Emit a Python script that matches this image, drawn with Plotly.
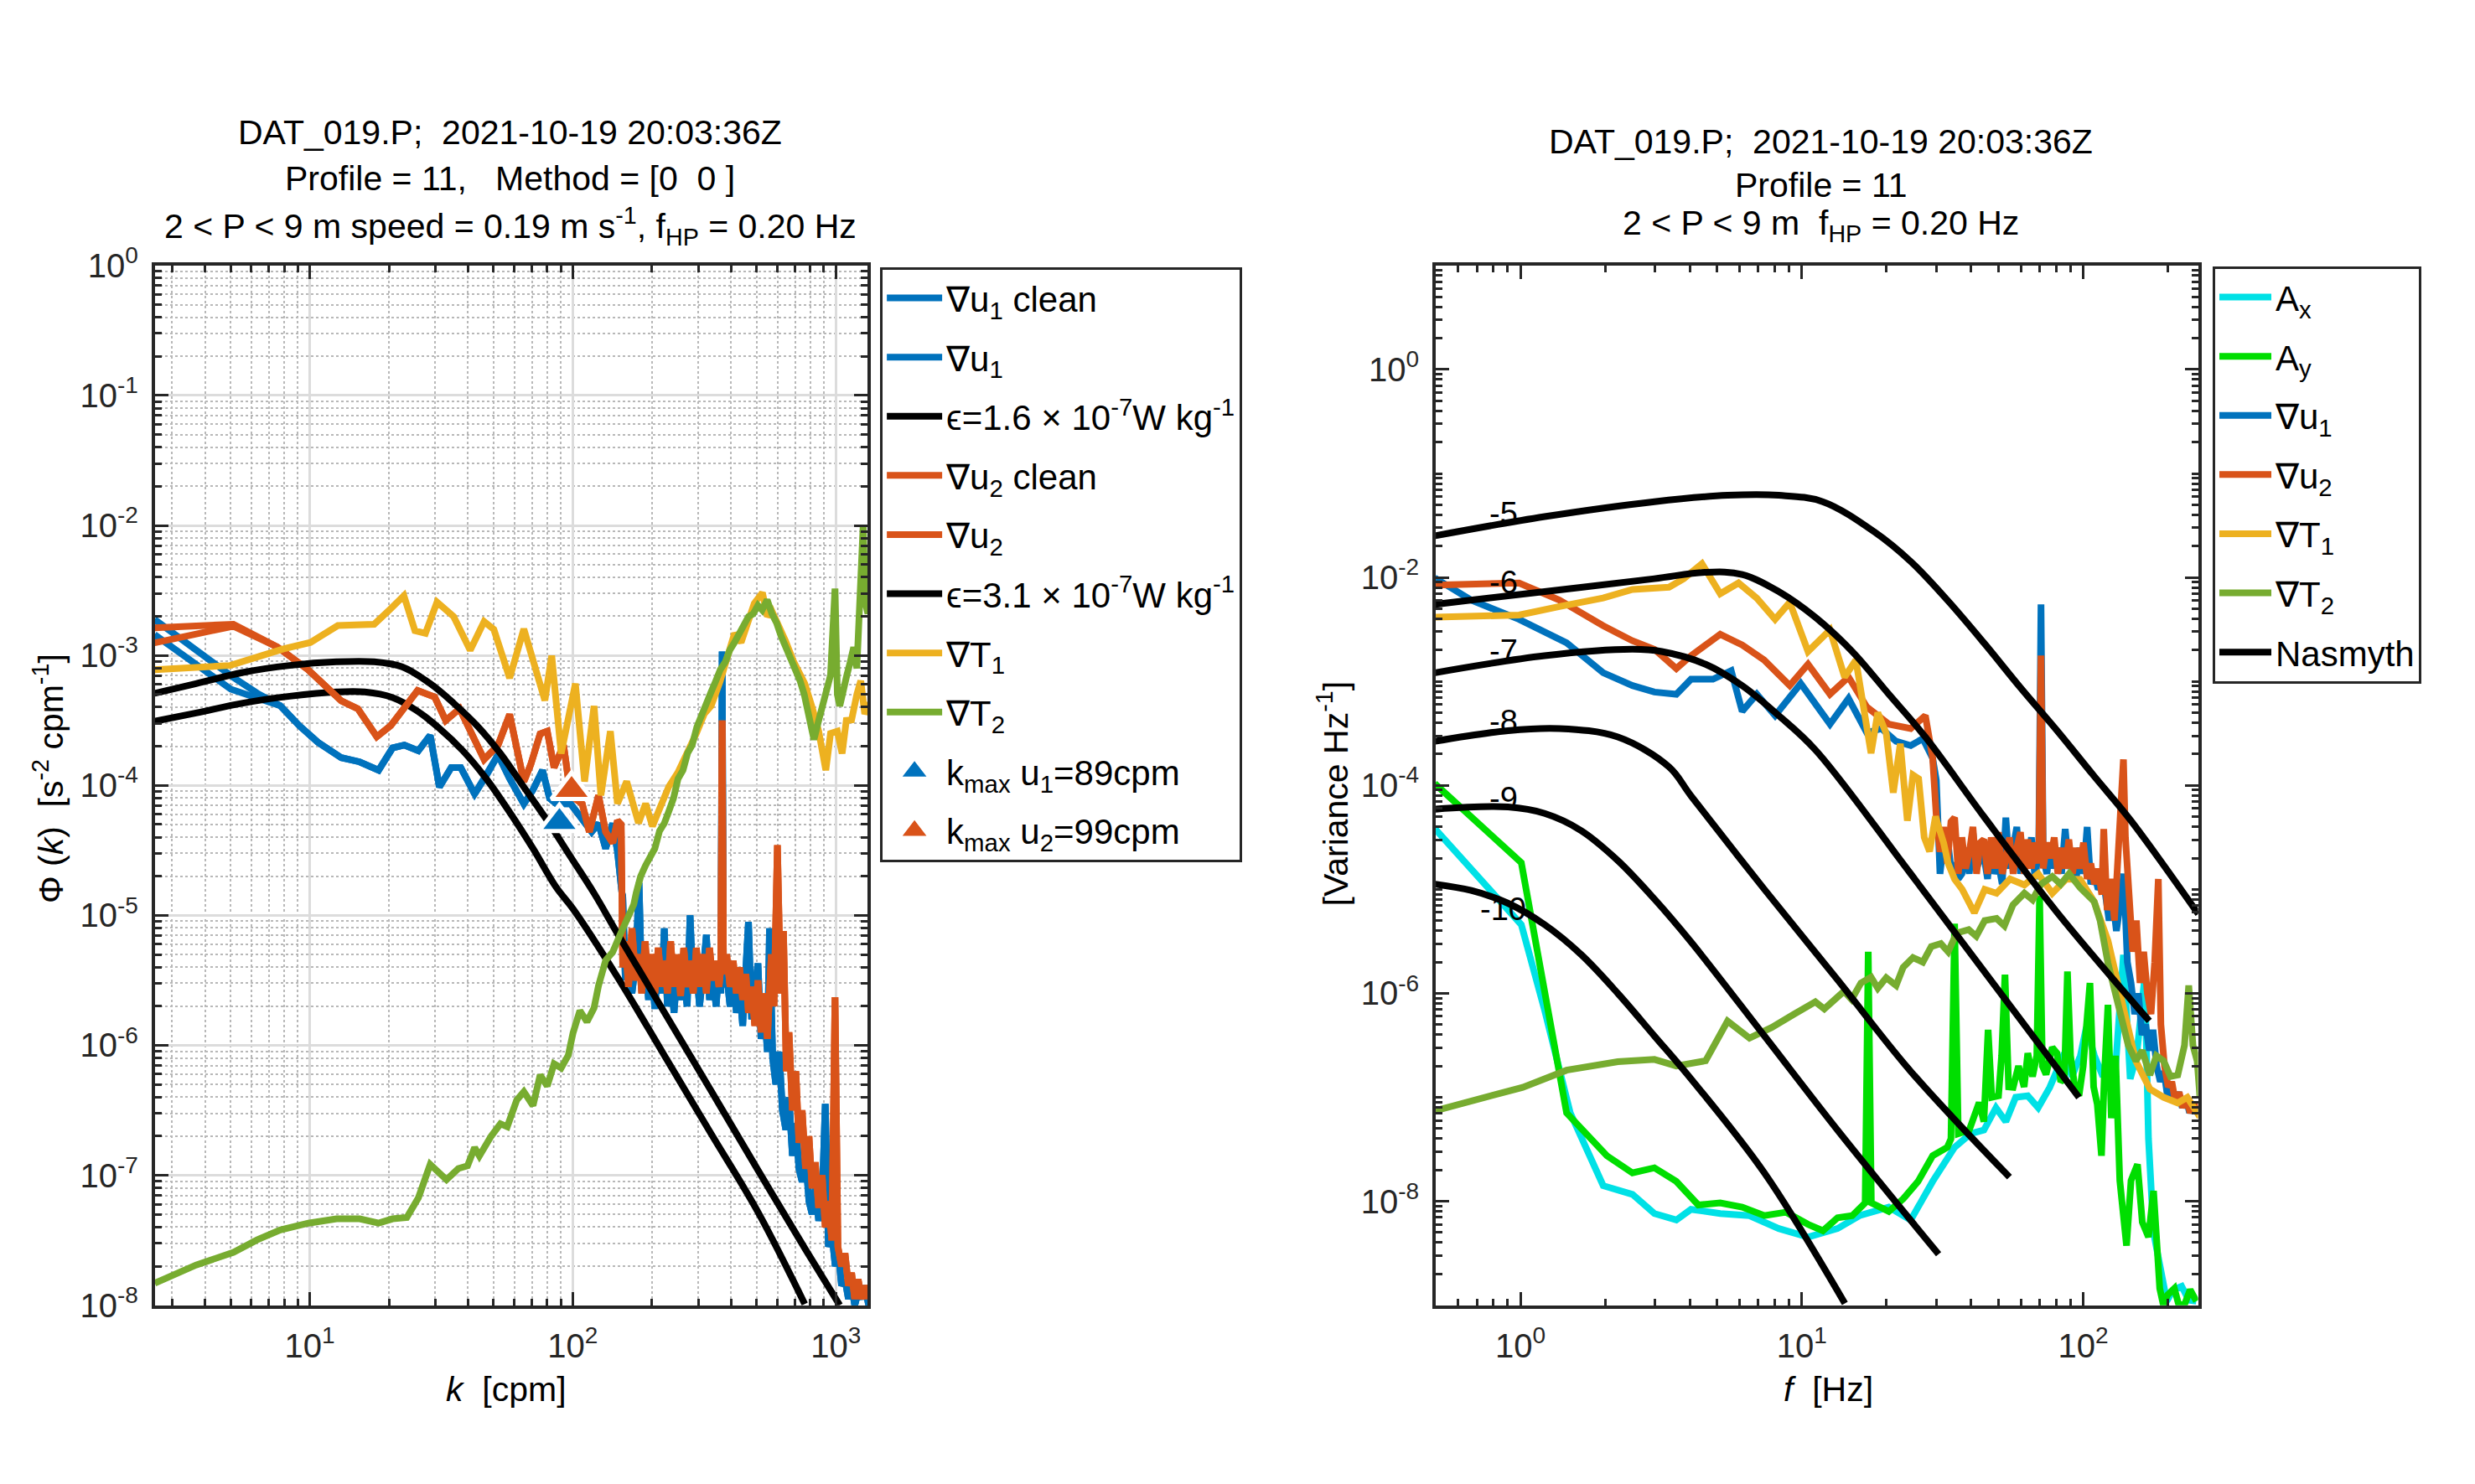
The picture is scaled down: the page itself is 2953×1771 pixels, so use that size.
import numpy as np
import plotly.graph_objects as go

# ---------------- left panel: wavenumber spectra (values are log10) ----------------
logk_u1 = [0.41, 0.568, 0.71, 0.80, 0.888, 0.96, 1.031, 1.12, 1.19, 1.262, 1.315, 1.36, 1.413,
           1.458, 1.493, 1.538, 1.574, 1.627, 1.671, 1.716, 1.76, 1.814, 1.849, 1.885, 1.912,
           1.938, 1.992, 2.027, 2.072, 2.098, 2.125, 2.152, 2.17, 2.187,
           2.190, 2.200, 2.212, 2.225, 2.240, 2.252, 2.262, 2.275, 2.288, 2.300, 2.312, 2.325,
           2.338, 2.348, 2.360, 2.372, 2.385, 2.398, 2.410, 2.422, 2.435, 2.446, 2.458, 2.470,
           2.482, 2.495, 2.508, 2.520, 2.532, 2.545, 2.556, 2.563, 2.568, 2.573, 2.585, 2.598,
           2.610, 2.622, 2.634, 2.646, 2.658, 2.668, 2.680, 2.692, 2.704, 2.716, 2.728, 2.740,
           2.748, 2.760, 2.772, 2.785, 2.797, 2.810, 2.822, 2.835, 2.848, 2.860, 2.872, 2.885,
           2.898, 2.910, 2.922, 2.935, 2.948, 2.960, 2.972, 2.985, 2.998, 3.010, 3.022, 3.035,
           3.048, 3.060, 3.072, 3.085, 3.098, 3.110, 3.125]
logphi_u1 = [-2.723, -2.96, -3.17, -3.29, -3.387, -3.54, -3.668, -3.787, -3.819, -3.883, -3.712,
             -3.69, -3.733, -3.615, -4.013, -3.862, -3.862, -4.066, -3.927, -3.765, -3.948, -4.142,
             -4.034, -3.883, -4.099, -4.142, -4.142, -4.228, -4.357, -4.292, -4.486, -4.292,
             -4.507, -4.83,
             -4.85, -5.50, -5.25, -5.60, -5.35, -4.75, -5.55, -5.30, -5.65, -5.40, -5.72, -5.35,
             -5.60, -5.10, -5.70, -5.45, -5.75, -5.40, -5.65, -5.50, -5.70, -5.00, -5.60, -5.40,
             -5.70, -5.45, -5.15, -5.65, -5.45, -5.70, -5.40, -5.60, -2.97, -5.55, -5.45, -5.70,
             -5.40, -5.75, -5.55, -5.85, -5.50, -5.05, -5.80, -5.60, -5.37, -5.95, -5.70, -6.05,
             -5.10, -6.10, -6.30, -6.05, -6.50, -6.65, -6.40, -6.85, -6.60, -6.95, -7.05, -6.85,
             -7.20, -7.30, -7.10, -7.35, -7.20, -6.45, -7.55, -7.45, -7.70, -7.60, -7.85, -7.80,
             -7.95, -7.85, -8.00, -7.90, -7.95, -7.85, -8.00]
# raw (not cleaned) u1 only differs at the lowest wavenumbers
logk_u1_raw_low = [0.41, 0.70]
logphi_u1_raw_low = [-2.84, -3.26]

logk_u2 = [0.41, 0.71, 0.877, 0.994, 1.12, 1.183, 1.255, 1.308, 1.41, 1.475, 1.517, 1.57, 1.663,
           1.716, 1.76, 1.814, 1.84, 1.876, 1.903, 1.929, 1.965, 1.992, 2.036, 2.063, 2.098,
           2.125, 2.152, 2.17, 2.184,
           2.190, 2.200, 2.212, 2.225, 2.240, 2.252, 2.262, 2.275, 2.288, 2.300, 2.312, 2.325,
           2.338, 2.348, 2.360, 2.372, 2.385, 2.398, 2.410, 2.422, 2.435, 2.446, 2.458, 2.470,
           2.482, 2.495, 2.508, 2.520, 2.532, 2.545, 2.556, 2.563, 2.568, 2.573, 2.585, 2.598,
           2.610, 2.622, 2.634, 2.646, 2.658, 2.668, 2.680, 2.692, 2.704, 2.716, 2.728, 2.740,
           2.755, 2.765, 2.778, 2.790, 2.801, 2.812, 2.822, 2.835, 2.848, 2.860, 2.872, 2.885,
           2.898, 2.910, 2.922, 2.935, 2.948, 2.960, 2.972, 2.985, 2.997, 3.008, 3.022, 3.035,
           3.048, 3.060, 3.072, 3.085, 3.098, 3.110, 3.125]
logphi_u2 = [-2.787, -2.76, -2.935, -3.11, -3.35, -3.41, -3.626, -3.54, -3.27, -3.32, -3.50,
             -3.41, -3.80, -3.69, -3.454, -3.97, -3.841, -3.604, -3.583, -3.862, -3.69, -4.077,
             -4.142, -4.357, -4.077, -4.357, -4.443, -4.271, -4.30,
             -5.40, -5.20, -5.55, -5.10, -5.50, -5.30, -5.60, -5.20, -5.55, -5.30, -5.60, -5.25,
             -5.55, -5.35, -5.60, -5.20, -5.55, -5.30, -5.62, -5.25, -5.55, -5.35, -5.60, -5.25,
             -5.55, -5.30, -5.60, -5.25, -5.50, -5.35, -5.55, -5.40, -3.50, -5.45, -5.30, -5.55,
             -5.35, -5.60, -5.40, -5.65, -5.45, -5.75, -5.55, -5.85, -5.50, -5.90, -5.60, -5.95,
             -5.30, -5.70, -4.46, -5.60, -5.12, -6.20, -5.90, -6.50, -6.20, -6.75, -6.50, -6.95,
             -6.70, -7.10, -6.90, -7.25, -7.00, -7.40, -7.20, -7.50, -5.63, -7.55, -7.70, -7.60,
             -7.85, -7.75, -7.95, -7.80, -7.95, -7.85, -7.95]
logk_u2_raw_low = [0.41, 0.71]
logphi_u2_raw_low = [-2.903, -2.775]

logk_T1 = [0.41, 0.698, 0.90, 1.003, 1.107, 1.245, 1.308, 1.358, 1.40, 1.44, 1.484, 1.547, 1.61,
           1.663, 1.70, 1.76, 1.814, 1.894, 1.92, 1.956, 2.01, 2.045, 2.081, 2.107, 2.143, 2.17,
           2.205, 2.25, 2.277, 2.303, 2.33, 2.365, 2.40, 2.437, 2.47, 2.50, 2.526, 2.56, 2.59,
           2.615, 2.64, 2.668, 2.69, 2.721, 2.74, 2.757, 2.78, 2.81, 2.84, 2.882, 2.91, 2.935,
           2.962, 2.98, 3.006, 3.024, 3.04, 3.06, 3.08, 3.095, 3.11, 3.13]
logphi_T1 = [-3.11, -3.077, -2.95, -2.90, -2.77, -2.76, -2.64, -2.54, -2.81, -2.83, -2.59, -2.70,
             -2.96, -2.74, -2.80, -3.174, -2.797, -3.346, -3.002, -3.755, -3.217, -3.97, -3.389,
             -4.077, -3.583, -4.14, -3.97, -4.29, -4.14, -4.314, -4.18, -4.01, -3.9, -3.755,
             -3.6, -3.45, -3.389, -3.2, -3.0, -2.83, -2.9, -2.722, -2.6, -2.518, -2.7, -2.658,
             -2.75, -2.894, -3.05, -3.217, -3.4, -3.583, -3.883, -3.6, -3.583, -3.755, -3.5,
             -3.496, -3.3, -3.195, -3.45, -3.367]

logk_T2 = [0.411, 0.568, 0.71, 0.80, 0.888, 0.995, 1.102, 1.19, 1.262, 1.315, 1.369, 1.413, 1.458,
           1.52, 1.565, 1.60, 1.627, 1.645, 1.689, 1.725, 1.751, 1.787, 1.814, 1.849, 1.876,
           1.903, 1.929, 1.956, 1.983, 2.001, 2.027, 2.054, 2.081, 2.098, 2.125, 2.152, 2.179,
           2.205, 2.232, 2.241, 2.258, 2.277, 2.295, 2.312, 2.33, 2.348, 2.365, 2.383, 2.40,
           2.419, 2.437, 2.454, 2.472, 2.49, 2.508, 2.526, 2.543, 2.561, 2.58, 2.597, 2.615,
           2.632, 2.65, 2.668, 2.686, 2.704, 2.72, 2.739, 2.757, 2.775, 2.792, 2.81, 2.828,
           2.846, 2.864, 2.88, 2.899, 2.917, 2.935, 2.953, 2.965, 2.98, 2.997, 3.006, 3.015,
           3.028, 3.042, 3.055, 3.068, 3.08, 3.095, 3.104, 3.113, 3.122, 3.13, 3.14]
logphi_T2 = [-7.83, -7.69, -7.593, -7.497, -7.421, -7.368, -7.335, -7.335, -7.368, -7.335, -7.325,
             -7.174, -6.916, -7.034, -6.948, -6.927, -6.787, -6.851, -6.701, -6.604, -6.626,
             -6.421, -6.357, -6.464, -6.228, -6.314, -6.142, -6.174, -6.077, -5.905, -5.733,
             -5.819, -5.712, -5.54, -5.346, -5.282, -5.153, -5.045, -4.916, -4.83, -4.70, -4.615,
             -4.55, -4.486, -4.35, -4.292, -4.2, -4.099, -3.95, -3.883, -3.75, -3.69, -3.55,
             -3.454, -3.35, -3.281, -3.2, -3.109, -3.05, -2.959, -2.9, -2.83, -2.75, -2.701,
             -2.68, -2.615, -2.65, -2.572, -2.679, -2.75, -2.851, -2.93, -3.023, -3.10, -3.195,
             -3.30, -3.454, -3.647, -3.5, -3.367, -3.25, -3.152, -2.486, -3.3, -3.389, -3.25,
             -3.152, -3.05, -2.937, -3.1, -2.464, -2.0, -2.6, -2.679, -2.5, -2.357]

# Nasmyth fits
logk_nas_lo = [0.41, 0.568, 0.746, 0.924, 1.102, 1.209, 1.315, 1.404, 1.493, 1.582, 1.671, 1.76,
               1.849, 1.938, 2.001, 2.17, 2.348, 2.526, 2.704, 2.882]
logphi_nas_lo = [-3.507, -3.443, -3.367, -3.314, -3.281, -3.281, -3.324, -3.421, -3.561, -3.733,
                 -3.948, -4.206, -4.486, -4.787, -4.95, -5.475, -6.077, -6.68, -7.282, -7.99]
logk_nas_hi = [0.41, 0.568, 0.746, 0.924, 1.102, 1.244, 1.351, 1.458, 1.547, 1.636, 1.725, 1.814,
               1.903, 1.992, 2.081, 2.17, 2.348, 2.526, 2.704, 2.882, 3.015]
logphi_nas_hi = [-3.292, -3.217, -3.131, -3.077, -3.049, -3.049, -3.088, -3.217, -3.367, -3.54,
                 -3.755, -4.013, -4.271, -4.55, -4.83, -5.14, -5.745, -6.35, -6.96, -7.561, -8.0]

kmax_u1 = [89]
phimax_u1 = [5.2e-5]
kmax_u2 = [99]
phimax_u2 = [9.2e-5]

# ---------------- right panel: frequency spectra (values are log10) ----------------
logf_Ax = [-0.305, 0.003, 0.086, 0.177, 0.294, 0.398, 0.476, 0.554, 0.606, 0.71, 0.814, 0.918,
           1.022, 1.127, 1.205, 1.309, 1.387, 1.465, 1.543, 1.60, 1.647, 1.69, 1.725, 1.76,
           1.803, 1.84, 1.881, 1.91, 1.933, 1.96, 1.99, 2.011, 2.04, 2.07, 2.089, 2.11, 2.143,
           2.167, 2.19, 2.219, 2.232, 2.25, 2.272, 2.297, 2.32, 2.35, 2.375, 2.402]
logv_Ax = [-4.414, -5.34, -6.163, -7.15, -7.85, -7.933, -8.118, -8.18, -8.077, -8.118, -8.138,
           -8.262, -8.344, -8.262, -8.138, -8.056, -8.18, -7.809, -7.48, -7.35, -7.315, -7.1,
           -7.233, -7.0, -6.986, -7.1, -6.904, -6.7, -6.575, -6.8, -6.6, -6.327, -6.6, -6.8,
           -6.534, -6.9, -5.63, -6.822, -6.6, -5.834, -7.397, -8.3, -8.632, -8.96, -8.85, -8.817,
           -8.95, -8.96]

logf_Ay = [-0.305, 0.003, 0.164, 0.307, 0.398, 0.476, 0.554, 0.632, 0.71, 0.788, 0.867, 0.944,
           1.022, 1.075, 1.127, 1.179, 1.225, 1.236, 1.247, 1.309, 1.361, 1.413, 1.465, 1.517,
           1.530, 1.543, 1.556, 1.595, 1.63, 1.647, 1.662, 1.675, 1.699, 1.710, 1.722, 1.735,
           1.751, 1.77, 1.79, 1.803, 1.82, 1.835, 1.845, 1.855, 1.868, 1.89, 1.907, 1.92, 1.933,
           1.944, 1.955, 1.97, 1.985, 2.0, 2.024, 2.037, 2.05, 2.065, 2.075, 2.088, 2.10, 2.115,
           2.13, 2.154, 2.17, 2.193, 2.21, 2.232, 2.25, 2.272, 2.285, 2.30, 2.324, 2.34, 2.362,
           2.38, 2.402]
logv_Ay = [-3.982, -4.743, -7.15, -7.562, -7.727, -7.678, -7.809, -8.035, -8.015, -8.056, -8.138,
           -8.105, -8.221, -8.283, -8.159, -8.138, -8.015, -5.60, -8.015, -8.097, -7.974, -7.809,
           -7.562, -7.48, -7.4, -5.33, -7.35, -7.315, -7.05, -7.233, -6.35, -7.0, -6.986, -6.6,
           -5.82, -6.9, -6.904, -6.7, -6.9, -6.575, -6.8, -6.6, -5.06, -6.7, -6.78, -6.52,
           -6.575, -6.85, -6.821, -5.79, -6.6, -6.9, -6.986, -6.7, -5.90, -6.9, -7.068, -7.562,
           -6.8, -6.11, -7.2, -6.6, -7.8, -8.426, -7.8, -7.645, -8.2, -8.344, -7.9, -8.838, -9.0,
           -8.9, -8.838, -9.0, -8.98, -8.85, -8.96]

logf_u1 = [-0.305, -0.175, -0.005, 0.164, 0.294, 0.398, 0.476, 0.554, 0.606, 0.684, 0.749, 0.788,
           0.84, 0.905, 0.996, 1.1, 1.166, 1.231, 1.283, 1.335, 1.387, 1.43, 1.465,
           1.478, 1.491, 1.504, 1.517, 1.530, 1.543, 1.556, 1.569, 1.582, 1.595, 1.608, 1.621,
           1.634, 1.647, 1.660, 1.673, 1.686, 1.699, 1.712, 1.725, 1.738, 1.751, 1.764, 1.777,
           1.790, 1.803, 1.816, 1.829, 1.842, 1.850, 1.858, 1.871, 1.884, 1.897, 1.910, 1.923,
           1.936, 1.949, 1.962, 1.975, 1.988, 2.001, 2.014, 2.027, 2.040, 2.053, 2.066, 2.079,
           2.092, 2.105, 2.118, 2.131, 2.144, 2.157, 2.170, 2.183, 2.196, 2.209, 2.222, 2.235,
           2.248, 2.261, 2.274, 2.287, 2.300, 2.313, 2.326, 2.339, 2.352, 2.365, 2.378, 2.391,
           2.404]
logv_u1 = [-2.004, -2.218, -2.403, -2.629, -2.917, -3.04, -3.102, -3.123, -2.979, -2.979, -2.897,
           -3.288, -3.123, -3.329, -3.02, -3.411, -3.164, -3.494, -3.453, -3.576, -3.617, -3.55,
           -3.74,
           -3.95, -4.85, -4.55, -4.50, -4.80, -4.75, -4.90, -4.85, -4.60, -4.85, -4.45, -4.80,
           -4.70, -4.68, -4.90, -4.55, -4.85, -4.75, -4.95, -4.31, -4.80, -4.60, -4.40, -4.85,
           -4.55, -4.75, -4.50, -4.90, -4.60, -2.26, -4.70, -4.85, -4.55, -4.80, -4.60, -4.85,
           -4.42, -4.80, -4.70, -4.90, -4.60, -4.85, -4.40, -4.95, -4.85, -5.00, -4.95, -5.05,
           -5.30, -5.10, -5.40, -5.15, -4.85, -5.70, -5.90, -6.20, -6.00, -6.40, -6.30, -6.55,
           -6.35, -6.70, -6.85, -6.75, -7.00, -6.90, -7.05, -6.95, -7.10, -7.00, -7.15, -7.05,
           -7.15]

logf_u2 = [-0.305, -0.005, 0.138, 0.294, 0.398, 0.476, 0.554, 0.606, 0.71, 0.788, 0.866, 0.957,
           1.022, 1.1, 1.166, 1.231, 1.309, 1.387, 1.439, 1.465,
           1.478, 1.491, 1.504, 1.517, 1.530, 1.543, 1.556, 1.569, 1.582, 1.595, 1.608, 1.621,
           1.634, 1.647, 1.660, 1.673, 1.686, 1.699, 1.712, 1.725, 1.738, 1.751, 1.764, 1.777,
           1.790, 1.803, 1.816, 1.829, 1.842, 1.850, 1.858, 1.871, 1.884, 1.897, 1.910, 1.923,
           1.936, 1.949, 1.962, 1.975, 1.988, 2.001, 2.014, 2.027, 2.040, 2.053, 2.066, 2.073,
           2.085, 2.098, 2.111, 2.124, 2.137, 2.143, 2.150, 2.163, 2.176, 2.189, 2.202, 2.215,
           2.228, 2.241, 2.254, 2.267, 2.276, 2.289, 2.302, 2.315, 2.328, 2.341, 2.354, 2.367,
           2.380, 2.393, 2.404]
logv_u2 = [-2.074, -2.053, -2.218, -2.465, -2.609, -2.691, -2.876, -2.753, -2.547, -2.65, -2.794,
           -3.04, -2.835, -3.123, -2.958, -3.246, -3.411, -3.453, -3.329, -3.74,
           -4.30, -4.64, -4.40, -4.75, -4.35, -4.31, -4.85, -4.50, -4.80, -4.65, -4.40, -4.85,
           -4.55, -4.52, -4.85, -4.50, -4.80, -4.45, -4.85, -4.72, -4.50, -4.85, -4.60, -4.45,
           -4.85, -4.52, -4.80, -4.55, -4.75, -2.75, -4.80, -4.55, -4.70, -4.50, -4.85, -4.60,
           -4.80, -4.52, -4.85, -4.60, -4.80, -4.55, -4.90, -4.75, -4.95, -4.80, -5.05, -4.42,
           -5.20, -4.90, -5.30, -4.60, -4.20, -3.75, -4.50, -5.20, -5.60, -5.30, -5.90, -5.60,
           -6.00, -6.20, -5.70, -4.90, -6.30, -6.70, -6.90, -6.85, -7.05, -6.95, -7.10, -7.00,
           -7.15, -7.05, -7.12]

logf_T1 = [-0.305, -0.005, 0.138, 0.294, 0.398, 0.528, 0.58, 0.645, 0.71, 0.775, 0.84, 0.905,
           0.957, 1.022, 1.1, 1.152, 1.192, 1.22, 1.246, 1.27, 1.30, 1.325, 1.35, 1.375, 1.395,
           1.415, 1.435, 1.454, 1.475, 1.504, 1.52, 1.543, 1.57, 1.613, 1.65, 1.692, 1.74,
           1.791, 1.84, 1.89, 1.94, 1.989, 2.039, 2.088, 2.138, 2.187, 2.237, 2.286, 2.336,
           2.37, 2.415]
logv_T1 = [-2.382, -2.362, -2.28, -2.197, -2.115, -2.094, -2.012, -1.868, -2.156, -2.053, -2.2,
           -2.403, -2.239, -2.712, -2.505, -2.958, -2.794, -3.25, -3.69, -3.3, -3.5, -4.07, -3.6,
           -4.34, -3.9, -3.935, -4.5, -4.634, -4.3, -4.553, -4.75, -4.903, -5.0, -5.225, -5.0,
           -5.037, -4.9, -4.957, -4.85, -5.037, -4.9, -4.903, -5.118, -5.494, -6.113, -6.65,
           -6.92, -7.0, -7.054, -7.0, -7.19]

logf_T2 = [-0.305, 0.008, 0.164, 0.346, 0.476, 0.554, 0.658, 0.736, 0.814, 0.893, 0.97, 1.048,
           1.08, 1.127, 1.15, 1.177, 1.21, 1.246, 1.27, 1.3, 1.335, 1.36, 1.395, 1.43, 1.46,
           1.494, 1.52, 1.55, 1.593, 1.62, 1.65, 1.692, 1.72, 1.75, 1.791, 1.82, 1.85, 1.89,
           1.92, 1.95, 1.989, 2.039, 2.06, 2.088, 2.11, 2.138, 2.16, 2.187, 2.21, 2.237, 2.26,
           2.286, 2.31, 2.336, 2.36, 2.375, 2.39, 2.405, 2.415]
logv_T2 = [-7.13, -6.904, -6.739, -6.657, -6.636, -6.698, -6.649, -6.266, -6.43, -6.328, -6.204,
           -6.081, -6.15, -6.04, -5.98, -6.059, -5.9, -5.844, -5.95, -5.85, -5.924, -5.75,
           -5.656, -5.7, -5.55, -5.521, -5.6, -5.42, -5.387, -5.45, -5.3, -5.279, -5.35, -5.15,
           -5.037, -5.1, -4.95, -4.876, -4.95, -4.85, -4.984, -5.118, -5.3, -5.709, -5.95,
           -6.247, -6.5, -6.65, -6.55, -6.785, -6.6, -6.65, -6.8, -6.785, -6.5, -5.924, -6.5,
           -6.65, -7.0]

# Nasmyth curves for log10(epsilon) = -5 ... -10
nas_labels = ["-5", "-6", "-7", "-8", "-9", "-10"]
nas_label_logv = [-1.387, -2.048, -2.71, -3.387, -4.129, -5.19]
nas_logf = [
    [-0.305, 0.086, 0.476, 0.736, 0.918, 1.074, 1.257, 1.387, 1.517, 1.647, 1.777, 1.907, 2.037,
     2.167, 2.409],
    [-0.305, 0.086, 0.476, 0.658, 0.788, 0.918, 1.048, 1.179, 1.309, 1.439, 1.647, 1.907, 2.235],
    [-0.305, 0.086, 0.398, 0.502, 0.658, 0.788, 0.918, 1.048, 1.387, 1.985],
    [-0.305, -0.044, 0.138, 0.346, 0.528, 0.606, 0.867, 1.127, 1.387, 1.738],
    [-0.305, -0.044, 0.086, 0.216, 0.346, 0.476, 0.606, 0.867, 1.127, 1.486],
    [-0.305, -0.175, -0.044, 0.086, 0.216, 0.346, 0.476, 0.606, 0.867, 1.153],
]
nas_logv = [
    [-1.60, -1.415, -1.271, -1.21, -1.21, -1.271, -1.56, -1.847, -2.218, -2.629, -3.06, -3.473,
     -3.905, -4.33, -5.237],
    [-2.259, -2.136, -2.012, -1.95, -1.971, -2.136, -2.383, -2.712, -3.123, -3.535, -4.30, -5.22,
     -6.266],
    [-2.917, -2.753, -2.691, -2.712, -2.835, -3.041, -3.329, -3.658, -4.85, -7.0],
    [-3.576, -3.473, -3.453, -3.535, -3.823, -4.10, -5.0, -5.87, -6.75, -7.768],
    [-4.229, -4.208, -4.27, -4.435, -4.723, -5.093, -5.505, -6.41, -7.316, -8.509],
    [-4.949, -5.011, -5.134, -5.34, -5.628, -6.0, -6.41, -6.822, -7.727, -8.982],
]

# ---------------- styling ----------------
BLUE, RED, YELLOW, GREEN = "#0072BD", "#D95319", "#EDB120", "#77AC30"
CYAN, LIME = "#00E1E6", "#00DE00"
AX = "#262626"
FONT = "Liberation Sans, Arial, Helvetica, sans-serif"
LW = 8
NB = "\u00a0"

# panel placement (paper fractions)
LEFT_X = [0.0599, 0.3478]
RIGHT_X = [0.5774, 0.8854]
PANEL_Y = [0.1158, 0.8368]


def p10(v):
    return np.power(10.0, np.array(v, dtype=float))


def sup_label(e):
    return "10<sup>%d</sup>" % e


fig = go.Figure()


def add(x, y, name, color, xa, ya, legend, group, width=LW, show=True, shape="linear"):
    fig.add_trace(go.Scatter(
        x=x, y=y, mode="lines", name=name, line=dict(color=color, width=width, shape=shape),
        xaxis=xa, yaxis=ya, legend=legend, legendgroup=group, showlegend=show,
    ))


# left panel traces
u1_raw_k = logk_u1_raw_low + [v for v in logk_u1 if v >= 0.887]
u1_raw_p = logphi_u1_raw_low + [p for v, p in zip(logk_u1, logphi_u1) if v >= 0.887]
u2_raw_k = logk_u2_raw_low + [v for v in logk_u2 if v > 0.71]
u2_raw_p = logphi_u2_raw_low + [p for v, p in zip(logk_u2, logphi_u2) if v > 0.71]

add(p10(logk_u1), p10(logphi_u1), "∇u<sub>1</sub> clean", BLUE, "x", "y", "legend", "a1")
add(p10(u1_raw_k), p10(u1_raw_p), "∇u<sub>1</sub>", BLUE, "x", "y", "legend", "a2")
add(p10(logk_nas_lo), p10(logphi_nas_lo), "ϵ=1.6 × 10<sup>-7</sup>W kg<sup>-1</sup>", "black",
    "x", "y", "legend", "a3", shape="spline")
add(p10(logk_u2), p10(logphi_u2), "∇u<sub>2</sub> clean", RED, "x", "y", "legend", "a4")
add(p10(u2_raw_k), p10(u2_raw_p), "∇u<sub>2</sub>", RED, "x", "y", "legend", "a5")
add(p10(logk_nas_hi), p10(logphi_nas_hi), "ϵ=3.1 × 10<sup>-7</sup>W kg<sup>-1</sup>", "black",
    "x", "y", "legend", "a6", shape="spline")
add(p10(logk_T1), p10(logphi_T1), "∇T<sub>1</sub>", YELLOW, "x", "y", "legend", "a7")
add(p10(logk_T2), p10(logphi_T2), "∇T<sub>2</sub>", GREEN, "x", "y", "legend", "a8")

for kk, pp, col, nm, grp in [(kmax_u1, phimax_u1, BLUE, "k<sub>max</sub> u<sub>1</sub>=89cpm", "a9"),
                             (kmax_u2, phimax_u2, RED, "k<sub>max</sub> u<sub>2</sub>=99cpm", "b0")]:
    # the marker on the plot, white edged
    fig.add_trace(go.Scatter(
        x=kk, y=pp, mode="markers", name=nm, xaxis="x", yaxis="y", showlegend=False,
        marker=dict(symbol="triangle-up", size=42, color=col, line=dict(color="white", width=5)),
        legend="legend", legendgroup=grp,
    ))
    # legend entry with a solid (larger looking) triangle
    fig.add_trace(go.Scatter(
        x=[None], y=[None], mode="markers", name=nm, xaxis="x", yaxis="y",
        marker=dict(symbol="triangle-up", size=34, color=col, line=dict(color=col, width=6)),
        legend="legend", legendgroup=grp,
    ))

# right panel traces
add(p10(logf_Ax), p10(logv_Ax), "A<sub>x</sub>", CYAN, "x2", "y2", "legend2", "c1")
add(p10(logf_Ay), p10(logv_Ay), "A<sub>y</sub>", LIME, "x2", "y2", "legend2", "c2")
add(p10(logf_u1), p10(logv_u1), "∇u<sub>1</sub>", BLUE, "x2", "y2", "legend2", "c3")
add(p10(logf_u2), p10(logv_u2), "∇u<sub>2</sub>", RED, "x2", "y2", "legend2", "c4")
add(p10(logf_T1), p10(logv_T1), "∇T<sub>1</sub>", YELLOW, "x2", "y2", "legend2", "c5")
add(p10(logf_T2), p10(logv_T2), "∇T<sub>2</sub>", GREEN, "x2", "y2", "legend2", "c6")
for i, (fx, vy) in enumerate(zip(nas_logf, nas_logv)):
    add(p10(fx), p10(vy), "Nasmyth", "black", "x2", "y2", "legend2", "c7", show=(i == 0),
        shape="spline")


# ---------------- axes ----------------
def minor_vals(lo, hi):
    out = []
    for d in range(lo, hi + 1):
        for m in range(2, 10):
            out.append(m * 10.0 ** d)
    return out


tickfont = dict(family=FONT, size=40, color=AX)
common = dict(type="log", showline=True, linecolor=AX, linewidth=4, mirror="ticks",
              ticks="inside", ticklen=16, tickwidth=3, tickcolor=AX, tickfont=tickfont,
              zeroline=False, tickmode="array")

fig.update_layout(
    xaxis=dict(common, domain=LEFT_X, range=[np.log10(2.58), np.log10(1320)],
               anchor="y", tickvals=[10, 100, 1000], ticktext=[sup_label(e) for e in (1, 2, 3)],
               showgrid=True, gridcolor="#dcdcdc", gridwidth=3, ticklabelstandoff=10,
               minor=dict(tickmode="array", tickvals=minor_vals(0, 3), ticks="inside",
                          ticklen=8, tickwidth=3, tickcolor=AX, showgrid=True,
                          gridcolor="#b8b8b8", gridwidth=2, griddash="dot")),
    yaxis=dict(common, domain=PANEL_Y, range=[-8, 0], anchor="x",
               tickvals=[10.0 ** e for e in range(-8, 1)],
               ticktext=[sup_label(e) for e in range(-8, 1)],
               showgrid=True, gridcolor="#dcdcdc", gridwidth=3, ticklabelstandoff=8,
               minor=dict(tickmode="array", tickvals=minor_vals(-8, -1), ticks="inside",
                          ticklen=8, tickwidth=3, tickcolor=AX, showgrid=True,
                          gridcolor="#b8b8b8", gridwidth=2, griddash="dot")),
    xaxis2=dict(common, domain=RIGHT_X, range=[np.log10(0.5), np.log10(256)],
                anchor="y2", tickvals=[1, 10, 100], ticktext=[sup_label(e) for e in (0, 1, 2)],
                showgrid=False, ticklabelstandoff=10,
                minor=dict(tickmode="array", tickvals=minor_vals(-1, 2), ticks="inside",
                           ticklen=8, tickwidth=3, tickcolor=AX, showgrid=False)),
    yaxis2=dict(common, domain=PANEL_Y, range=[-9, 1], anchor="x2",
                tickvals=[10.0 ** e for e in range(-8, 1, 2)],
                ticktext=[sup_label(e) for e in range(-8, 1, 2)],
                showgrid=False, ticklabelstandoff=8,
                minor=dict(tickmode="array",
                           tickvals=minor_vals(-9, 0) + [10.0 ** e for e in range(-9, 1, 2)],
                           ticks="inside", ticklen=8, tickwidth=3, tickcolor=AX,
                           showgrid=False)),
)

# ---------------- legends ----------------
legfont = dict(family=FONT, size=42, color="black")
fig.update_layout(
    legend=dict(x=0.3529, y=0.8357, xanchor="left", yanchor="top", font=legfont,
                bordercolor=AX, borderwidth=3, bgcolor="white", traceorder="grouped",
                tracegroupgap=13, itemwidth=66),
    legend2=dict(x=0.8913, y=0.8363, xanchor="left", yanchor="top", font=legfont,
                 bordercolor=AX, borderwidth=3, bgcolor="white", traceorder="grouped",
                 tracegroupgap=13, itemwidth=62),
)

# ---------------- titles and labels ----------------
tfont = dict(family=FONT, size=41, color="black")
ann = []
left_title = ["DAT_019.P;" + NB * 2 + "2021-10-19 20:03:36Z",
              "Profile = 11," + NB * 3 + "Method = [0" + NB * 2 + "0 ]",
              "2 < P < 9 m speed = 0.19 m s<sup>-1</sup>, f<sub>HP</sub> = 0.20 Hz"]
right_title = ["DAT_019.P;" + NB * 2 + "2021-10-19 20:03:36Z",
               "Profile = 11",
               "2 < P < 9 m" + NB * 2 + "f<sub>HP</sub> = 0.20 Hz"]
for txt, yy in zip(left_title, [0.9289, 0.8972, 0.8639]):
    ann.append(dict(text=txt, x=0.2034, y=yy, xref="paper", yref="paper", showarrow=False,
                    xanchor="center", yanchor="middle", font=tfont))
for txt, yy in zip(right_title, [0.9226, 0.8927, 0.8648]):
    ann.append(dict(text=txt, x=0.733, y=yy, xref="paper", yref="paper", showarrow=False,
                    xanchor="center", yanchor="middle", font=tfont))

ann.append(dict(text="<i>k</i>" + NB * 2 + "[cpm]", x=0.2018, y=0.0576, xref="paper",
                yref="paper", showarrow=False, xanchor="center", yanchor="middle", font=tfont))
ann.append(dict(text="<i>f</i>" + NB * 2 + "[Hz]", x=0.736, y=0.0576, xref="paper",
                yref="paper", showarrow=False, xanchor="center", yanchor="middle", font=tfont))
ann.append(dict(text="Φ (<i>k</i>)" + NB * 2 + "[s<sup>-2</sup> cpm<sup>-1</sup>]", x=0.0169,
                y=0.481, xref="paper", yref="paper", showarrow=False, textangle=-90,
                xanchor="center", yanchor="middle", font=tfont))
ann.append(dict(text="[Variance Hz<sup>-1</sup>]", x=0.5357, y=0.4709, xref="paper",
                yref="paper", showarrow=False, textangle=-90, xanchor="center",
                yanchor="middle", font=tfont))

for lab, lv in zip(nas_labels, nas_label_logv):
    ann.append(dict(text=lab, x=-0.06, y=lv, xref="x2", yref="y2", showarrow=False,
                    xanchor="center", yanchor="middle",
                    font=dict(family=FONT, size=38, color="black")))

fig.update_layout(
    annotations=ann,
    width=2953, height=1771, autosize=False,
    margin=dict(l=0, r=0, t=0, b=0),
    paper_bgcolor="white", plot_bgcolor="white",
    font=dict(family=FONT, color="black"),
)

fig.write_html("out.html")
